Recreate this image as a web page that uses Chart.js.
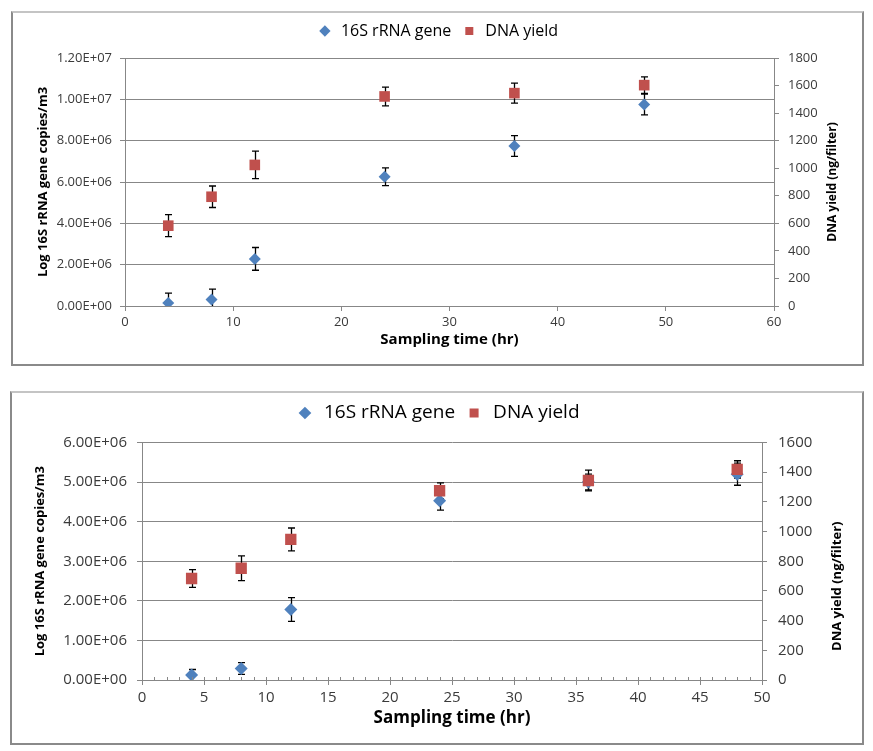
<!DOCTYPE html>
<html>
<head>
<meta charset="utf-8">
<title>16S rRNA gene and DNA yield vs sampling time</title>
<script src="https://cdn.jsdelivr.net/npm/chart.js@4.4.1/dist/chart.umd.min.js"></script>
<style>
  body { margin: 0; background: #fff; }
  .frame { position: absolute; box-sizing: border-box; border: 2px solid #8a8a8a; border-top-color: #c4c4c4; }
  canvas { position: absolute; }
</style>
</head>
<body>
<div class="frame" style="left:11px;top:11px;width:853px;height:355px;"></div>
<canvas id="chart-top" width="847" height="351" style="left:14px;top:13px;"></canvas>
<div class="frame" style="left:10px;top:391px;width:854px;height:354px;"></div>
<canvas id="chart-bottom" width="849" height="348" style="left:13px;top:394px;"></canvas>

<script>
// sampling times (hr), same for both panels
var times = [4, 8, 12, 24, 36, 48];

// top panel
var geneTop = [0.15e6, 0.32e6, 2.28e6, 6.25e6, 7.74e6, 9.75e6];
var geneErrTop = [0.47e6, 0.5e6, 0.55e6, 0.43e6, 0.5e6, 0.5e6];
var yieldTop = [583, 793, 1024, 1521, 1545, 1603];
var yieldErrTop = [80, 78, 100, 68, 72, 60];
var leftTicksTop = ['0.00E+00', '2.00E+06', '4.00E+06', '6.00E+06', '8.00E+06', '1.00E+07', '1.20E+07'];

// bottom panel
var geneBottom = [0.125e6, 0.29e6, 1.78e6, 4.53e6, 5.0e6, 5.2e6];
var geneErrBottom = [0.14e6, 0.15e6, 0.3e6, 0.24e6, 0.2e6, 0.28e6];
var yieldBottom = [684, 753, 947, 1275, 1344, 1419];
var yieldErrBottom = [60, 83, 77, 53, 70, 58];
var leftTicksBottom = ['0.00E+00', '1.00E+06', '2.00E+06', '3.00E+06', '4.00E+06', '5.00E+06', '6.00E+06'];

var seriesNames = ['16S rRNA gene', 'DNA yield'];
var BLUE = '#4f81bd';
var RED = '#c0504d';
var GRID = '#878787';
var TICK_COLOR = '#3a3a3a';
var FONT = "'Open Sans', 'Liberation Sans', sans-serif";

// error bars drawn under the markers, right axis title reads bottom-to-top like Excel
var excelExtras = {
    id: 'excelExtras',
    beforeLayout: function(chart, args, opts) {
        // leave a gap between the legend and the plot area
        var legend = chart.legend;
        if (!legend || legend.gapPatched) return;
        var fit = legend.fit;
        legend.fit = function() {
            fit.call(this);
            this.height += opts.legendGap;
        };
        legend.gapPatched = true;
    },
    beforeDatasetsDraw: function(chart) {
        var ctx = chart.ctx;
        var area = chart.chartArea;
        var xScale = chart.scales.x;
        ctx.save();
        ctx.beginPath();
        ctx.rect(area.left, area.top - 1, area.right - area.left, area.bottom - area.top + 1);
        ctx.clip();
        ctx.strokeStyle = '#000';
        ctx.lineWidth = 1.3;
        chart.data.datasets.forEach(function(ds) {
            var yScale = chart.scales[ds.yAxisID];
            ds.data.forEach(function(p, j) {
                var err = ds.errors[j];
                var x = Math.round(xScale.getPixelForValue(p.x)) + 0.5;
                var hi = yScale.getPixelForValue(p.y + err);
                var lo = yScale.getPixelForValue(p.y - err);
                ctx.beginPath();
                ctx.moveTo(x, hi); ctx.lineTo(x, lo);
                ctx.moveTo(x - 3.5, hi); ctx.lineTo(x + 3.5, hi);
                ctx.moveTo(x - 3.5, lo); ctx.lineTo(x + 3.5, lo);
                ctx.stroke();
            });
        });
        ctx.restore();
    },
    afterDraw: function(chart, args, opts) {
        var ctx = chart.ctx;
        var area = chart.chartArea;
        var xScale = chart.scales.x;
        ctx.save();
        // minor tick marks on the x axis
        if (opts.minorStep) {
            ctx.strokeStyle = GRID;
            ctx.lineWidth = 1;
            ctx.beginPath();
            for (var v = xScale.min; v <= xScale.max; v += opts.minorStep) {
                var px = Math.round(xScale.getPixelForValue(v)) + 0.5;
                ctx.moveTo(px, area.bottom);
                ctx.lineTo(px, area.bottom - 3);
            }
            ctx.stroke();
        }
        ctx.fillStyle = '#000';
        ctx.font = 'bold ' + opts.titleSize + 'px ' + FONT;
        ctx.textAlign = 'center';
        ctx.textBaseline = 'middle';
        ctx.translate(opts.titleX, (area.top + area.bottom) / 2 + opts.titleShift);
        ctx.rotate(-Math.PI / 2);
        ctx.fillText(opts.rightTitle, 0, 0);
        ctx.restore();
    }
};

function buildPoints(values) {
    return values.map(function(v, i) { return { x: times[i], y: v }; });
}

function makeChart(canvasId, s) {
    var canvas = document.getElementById(canvasId);
    return new Chart(canvas, {
        type: 'scatter',
        data: {
            datasets: [{
                label: seriesNames[0],
                data: buildPoints(s.gene),
                errors: s.geneErr,
                yAxisID: 'y',
                pointStyle: 'rectRot',
                pointRadius: s.diamond,
                backgroundColor: BLUE,
                borderColor: BLUE,
                borderWidth: 0,
                order: 1
            }, {
                label: seriesNames[1],
                data: buildPoints(s.yield),
                errors: s.yieldErr,
                yAxisID: 'y2',
                pointStyle: 'rect',
                pointRadius: s.square,
                backgroundColor: RED,
                borderColor: RED,
                borderWidth: 0,
                order: 0
            }]
        },
        options: {
            responsive: false,
            animation: false,
            events: [],
            layout: { padding: 0, autoPadding: false },
            plugins: {
                tooltip: { enabled: false },
                legend: {
                    position: 'top',
                    labels: {
                        usePointStyle: true,
                        boxHeight: s.legendBox,
                        padding: s.legendPad,
                        color: '#000',
                        font: { family: FONT, size: s.legendSize },
                        sort: function(a, b) { return a.datasetIndex - b.datasetIndex; }
                    }
                },
                excelExtras: {
                    rightTitle: 'DNA yield (ng/filter)',
                    titleX: s.rightTitleX,
                    titleShift: s.rightTitleShift,
                    titleSize: s.rightTitleSize,
                    minorStep: s.minorStep,
                    legendGap: s.legendGap
                }
            },
            scales: {
                x: {
                    type: 'linear',
                    position: 'bottom',
                    min: 0,
                    max: s.xMax,
                    afterFit: function(scale) { scale.height = s.xHeight; },
                    ticks: { stepSize: s.xStep, padding: s.xPad, color: TICK_COLOR, font: { family: FONT, size: s.tickSize } },
                    grid: { drawOnChartArea: false, tickLength: 5, tickColor: GRID },
                    border: { color: GRID },
                    title: {
                        display: true,
                        text: 'Sampling time (hr)',
                        color: '#000',
                        font: { family: FONT, size: s.xTitleSize, weight: 'bold' },
                        padding: { top: 0, bottom: s.xTitlePad }
                    }
                },
                y: {
                    position: 'left',
                    min: 0,
                    max: s.leftMax,
                    afterFit: function(scale) { scale.width = s.leftWidth; },
                    ticks: {
                        stepSize: s.leftStep,
                        padding: s.leftPad,
                        color: TICK_COLOR,
                        font: { family: FONT, size: s.tickSize },
                        callback: function(value, index) { return s.leftTicks[index]; }
                    },
                    grid: { color: GRID, tickLength: 5, tickColor: GRID },
                    border: { color: GRID },
                    title: {
                        display: true,
                        text: 'Log 16S rRNA gene copies/m3',
                        color: '#000',
                        font: { family: FONT, size: s.leftTitleSize, weight: 'bold' },
                        padding: { top: s.leftTitlePad, bottom: 0 }
                    }
                },
                y2: {
                    position: 'right',
                    min: 0,
                    max: s.rightMax,
                    afterFit: function(scale) { scale.width = s.rightWidth; },
                    ticks: {
                        stepSize: 200,
                        padding: s.rightPad,
                        color: TICK_COLOR,
                        font: { family: FONT, size: s.tickSize },
                        callback: function(value) { return String(value); }
                    },
                    grid: { drawOnChartArea: false, tickLength: 5, tickColor: GRID },
                    border: { color: GRID }
                }
            }
        },
        plugins: [excelExtras]
    });
}

document.addEventListener('DOMContentLoaded', function() {
    makeChart('chart-top', {
        gene: geneTop, geneErr: geneErrTop, yield: yieldTop, yieldErr: yieldErrTop,
        leftTicks: leftTicksTop, leftMax: 1.2e7, leftStep: 2e6, rightMax: 1800,
        xMax: 60, xStep: 10, minorStep: 0,
        leftWidth: 111, rightWidth: 87, xHeight: 58,
        leftPad: 8, rightPad: 9, xPad: 3,
        leftTitlePad: 21, xTitlePad: 15, rightTitleX: 819, rightTitleShift: 0,
        tickSize: 13, leftTitleSize: 13, rightTitleSize: 12, xTitleSize: 15,
        legendSize: 16, legendPad: 10, legendBox: 8, legendGap: 9,
        diamond: 6, square: 7.5
    });
    makeChart('chart-bottom', {
        gene: geneBottom, geneErr: geneErrBottom, yield: yieldBottom, yieldErr: yieldErrBottom,
        leftTicks: leftTicksBottom, leftMax: 6e6, leftStep: 1e6, rightMax: 1600,
        xMax: 50, xStep: 5, minorStep: 1,
        leftWidth: 129, rightWidth: 100, xHeight: 62,
        leftPad: 10, rightPad: 11, xPad: 4,
        leftTitlePad: 19, xTitlePad: 14, rightTitleX: 824, rightTitleShift: 25,
        tickSize: 15, leftTitleSize: 13, rightTitleSize: 13, xTitleSize: 17,
        legendSize: 19, legendPad: 9.5, legendBox: 9, legendGap: 10,
        diamond: 6.5, square: 8
    });
});
</script>
</body>
</html>
